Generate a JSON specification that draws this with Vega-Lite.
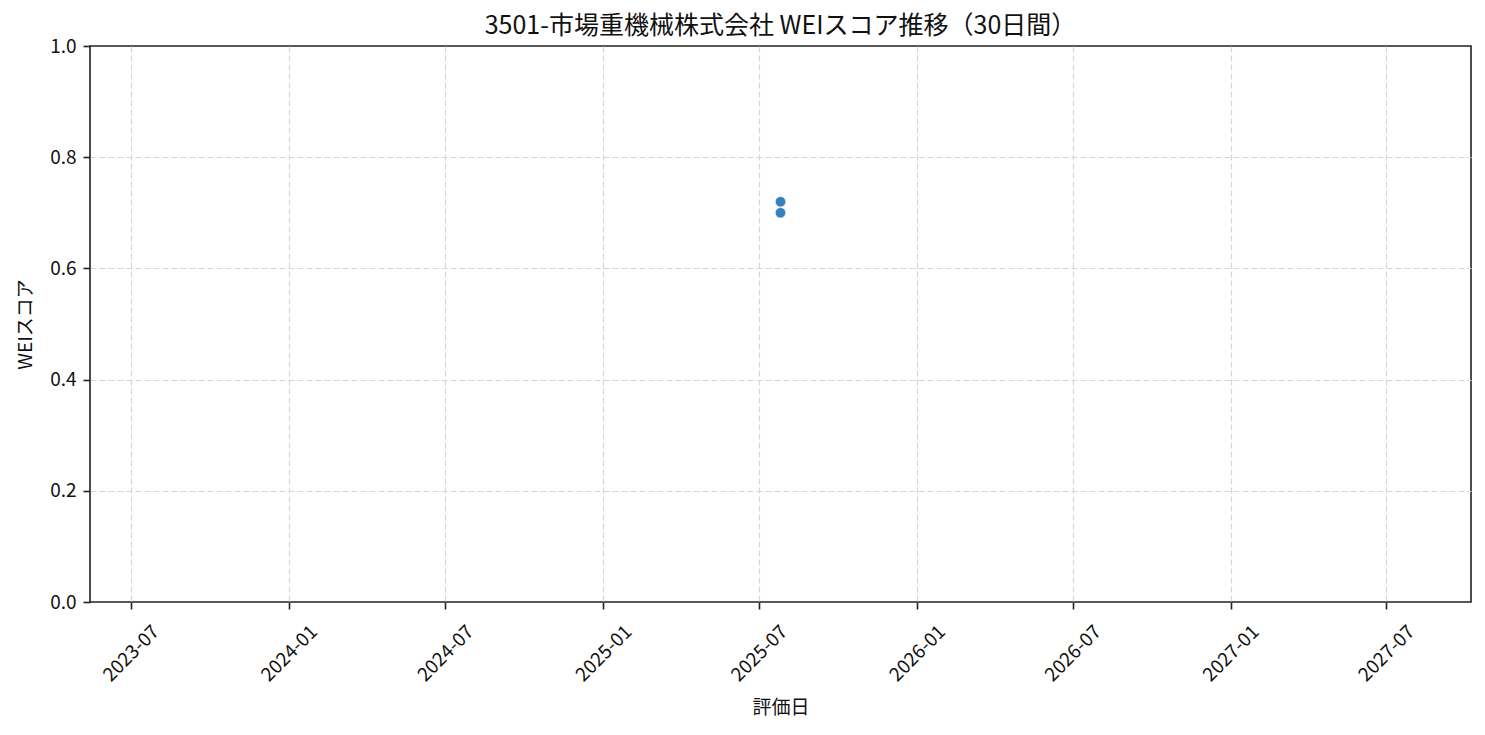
{
  "$schema": "https://vega.github.io/schema/vega-lite/v6.json",
  "width": 1381,
  "height": 556,
  "autosize": "none",
  "padding": {"left": 90, "top": 46, "right": 14, "bottom": 133},
  "background": "white",
  "config": {
    "font": "Noto Sans CJK JP",
    "view": {"stroke": "#222222", "strokeWidth": 1.6},
    "axis": {
      "domain": false,
      "grid": true,
      "gridColor": "#d6d6d6",
      "gridDash": [6, 3],
      "gridWidth": 1.2,
      "tickColor": "#222222",
      "tickWidth": 1.6,
      "tickSize": 7,
      "labelFont": "Noto Sans CJK JP",
      "labelFontSize": 19,
      "labelColor": "#111111",
      "titleFont": "Noto Sans CJK JP",
      "titleFontSize": 19,
      "titleFontWeight": "normal",
      "titleColor": "#111111"
    },
    "title": {
      "font": "Noto Sans CJK JP",
      "fontSize": 25,
      "fontWeight": "normal",
      "color": "#111111",
      "offset": -2
    }
  },
  "title": "3501-市場重機械株式会社 WEIスコア推移（30日間）",
  "data": {
    "values": [
      {"date": "2025-07-26", "score": 0.72},
      {"date": "2025-07-26", "score": 0.70}
    ]
  },
  "mark": {
    "type": "point",
    "shape": "circle",
    "filled": true,
    "size": 110,
    "color": "#1f77b4",
    "opacity": 0.9,
    "stroke": "white",
    "strokeWidth": 0.6
  },
  "encoding": {
    "x": {
      "field": "date",
      "type": "temporal",
      "title": "評価日",
      "scale": {
        "type": "utc",
        "domain": [
          {"year": 2023, "month": 5, "date": 14, "hours": 10, "minutes": 48, "utc": true},
          {"year": 2027, "month": 10, "date": 7, "hours": 13, "minutes": 12, "utc": true}
        ]
      },
      "axis": {
        "tickCount": {"interval": "month", "step": 6},
        "format": "%Y-%m",
        "labelAngle": -45,
        "labelAlign": "center",
        "labelBaseline": "middle",
        "labelPadding": 44,
        "titlePadding": 14
      }
    },
    "y": {
      "field": "score",
      "type": "quantitative",
      "title": "WEIスコア",
      "scale": {"domain": [0, 1], "nice": false, "zero": true},
      "axis": {
        "values": [0, 0.2, 0.4, 0.6, 0.8, 1.0],
        "format": ".1f",
        "labelPadding": 7,
        "titlePadding": 14,
        "gridOpacity": {
          "condition": {"test": "datum.value <= 0 || datum.value >= 1", "value": 0},
          "value": 1
        }
      }
    }
  }
}
